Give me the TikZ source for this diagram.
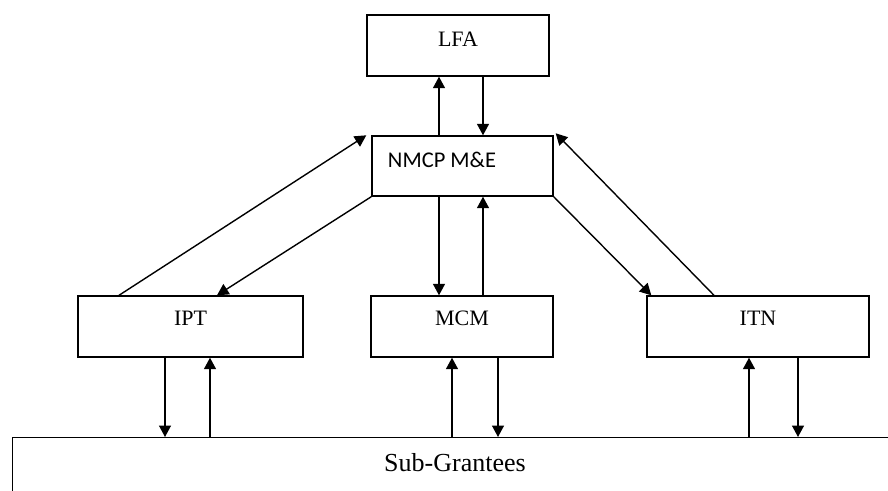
\documentclass[tikz,border=0pt]{standalone}
\usepackage{fontspec}
\setmainfont{Liberation Serif}
\newfontfamily\calfont{Carlito}
\usetikzlibrary{arrows.meta}
\begin{document}
\begin{tikzpicture}[x=1pt,y=-1pt,
  box/.style={draw,line width=1.4pt,inner sep=0pt,minimum width=#1,minimum height=61pt},
  lab/.style={font=\fontsize{22}{24}\selectfont,inner sep=0pt},
  arr/.style={line width=1.4pt,-{Triangle[length=11.5pt,width=12pt]}},
  ln/.style={line width=1.4pt}]
\useasboundingbox (0,0) rectangle (888,490);
\clip (0,0) rectangle (888,490);
\fill[white] (0,0) rectangle (888,490);
% boxes
\node[box=182pt,minimum height=61pt] (lfa) at (458,45.5) {};
\node[lab] (lfat) at (458,39) {LFA};
\node[box=181pt,minimum height=60pt] (nmcp) at (462.5,166) {};
\node[lab,font=\calfont\fontsize{22.5}{24}\selectfont] (nmcpt) at (442,160) {NMCP M\&E};
\node[box=225pt] (ipt) at (190.5,326.5) {};
\node[lab] (iptt) at (190.5,318) {IPT};
\node[box=182pt] (mcm) at (462,326.5) {};
\node[lab] (mcmt) at (462,318) {MCM};
\node[box=222pt] (itn) at (758,326.5) {};
\node[lab] (itnt) at (758,318) {ITN};
% sub-grantees box (extends beyond the picture)
\node[draw,line width=1.4pt,inner sep=0pt,minimum width=900pt,minimum height=100pt,anchor=north west] (sub) at (12,437) {};
\node[lab,font=\fontsize{26}{28}\selectfont] (subt) at (455,463) {Sub-Grantees};
% LFA <-> NMCP
\draw[arr] ([xshift=-23.5pt]nmcp.north) -- ([xshift=-23.5pt]nmcp.north |- lfa.south);
\draw[arr] ([xshift=20.5pt]nmcp.north |- lfa.south) -- ([xshift=20.5pt]nmcp.north);
% NMCP <-> MCM
\draw[arr] ([xshift=-23.5pt]nmcp.south) -- ([xshift=-23.5pt]nmcp.south |- mcm.north);
\draw[arr] ([xshift=20.5pt]nmcp.south |- mcm.north) -- ([xshift=20.5pt]nmcp.south);
% NMCP <-> IPT
\draw[arr] ([xshift=-71.5pt]ipt.north) -- ([xshift=-5pt]nmcp.north west);
\draw[arr] (nmcp.south west) -- ([xshift=26.5pt]ipt.north);
% NMCP <-> ITN
\draw[arr] (nmcp.south east) -- ([xshift=5pt]itn.north west);
\draw[arr] ([xshift=-44pt]itn.north) -- ([xshift=2pt,yshift=2pt]nmcp.north east);
% IPT <-> Sub
\draw[arr] ([xshift=-25.5pt]ipt.south) -- ([xshift=-25.5pt]ipt.south |- sub.north);
\draw[arr] ([xshift=19.5pt]ipt.south |- sub.north) -- ([xshift=19.5pt]ipt.south);
% MCM <-> Sub
\draw[arr] ([xshift=-10pt]mcm.south |- sub.north) -- ([xshift=-10pt]mcm.south);
\draw[arr] ([xshift=36pt]mcm.south) -- ([xshift=36pt]mcm.south |- sub.north);
% ITN <-> Sub
\draw[arr] ([xshift=-9pt]itn.south |- sub.north) -- ([xshift=-9pt]itn.south);
\draw[arr] ([xshift=40pt]itn.south) -- ([xshift=40pt]itn.south |- sub.north);
\end{tikzpicture}
\end{document}
